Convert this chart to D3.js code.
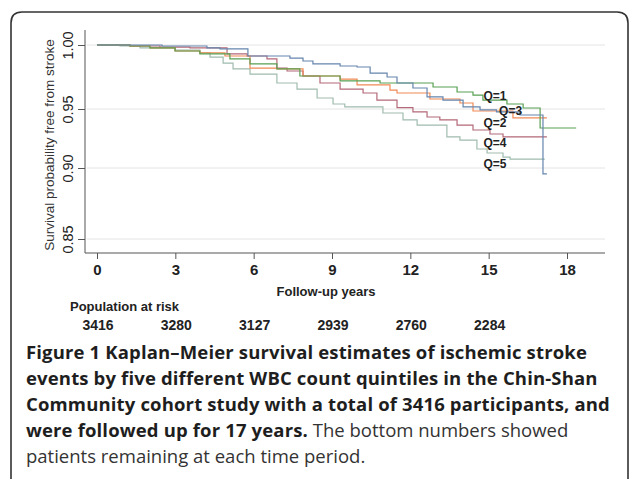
<!DOCTYPE html><html>
<head>
<meta charset="utf-8">
<style>
body { margin: 0; padding: 0; background: #fff; }
svg { display: block; }
.ax text { font-family: "Liberation Sans", Arial, sans-serif; fill: #222; }
.grid line { stroke: #e4e4e4; stroke-width: 1; }
.km { fill: none; stroke-width: 1.2; }
</style>
</head>
<body>
<svg id="chart" width="630" height="479"></svg>
<script src="https://cdn.jsdelivr.net/npm/d3@7"></script>
<script>
// follow-up years on the axis
var xTicks = [0, 3, 6, 9, 12, 15, 18];
var yTicks = [0.85, 0.90, 0.95, 1.00];

// number at risk under the axis
var riskYears = [0, 3, 6, 9, 12, 15];
var riskCounts = [3416, 3280, 3127, 2939, 2760, 2284];

// Kaplan-Meier steps: [years, survival]
var q1 = [[0,1],[1.26,0.9992],[2.03,0.9977],[2.99,0.9953],[3.94,0.993],[5.09,0.9891],[5.86,0.9852],[6.89,0.9813],[7.77,0.9758],[9.31,0.9719],[10.84,0.9703],[12.87,0.9672],[13.79,0.9633],[14.4,0.9609],[14.78,0.957],[15.7,0.9539],[16.32,0.9508],[16.97,0.9339],[18.35,0.9339]];
var q2 = [[0,1],[1.26,0.9992],[2.03,0.9977],[2.99,0.9953],[3.94,0.9938],[4.9,0.9914],[5.86,0.982],[6.89,0.9813],[7.89,0.9758],[9.31,0.9734],[9.96,0.9688],[11.22,0.9648],[11.49,0.9625],[12.75,0.9578],[13.9,0.9547],[14.4,0.9483],[15.93,0.9424],[17.23,0.9424]];
var q3 = [[0,1],[2.49,0.9992],[4.21,0.9977],[4.71,0.9969],[5.78,0.9914],[7.39,0.9898],[7.89,0.9875],[8.27,0.9852],[9.31,0.9836],[9.96,0.9828],[10.46,0.9781],[11.11,0.975],[11.49,0.9703],[12.1,0.9664],[12.64,0.9594],[13.25,0.957],[14.02,0.9516],[14.67,0.9492],[15.3,0.9475],[16.2,0.9449],[17.08,0.8958],[17.23,0.8958]];
var q4 = [[0,1],[1.26,0.9992],[2.41,0.9984],[3.56,0.9977],[4.98,0.993],[5.75,0.9914],[6.51,0.9891],[6.89,0.982],[7.28,0.9797],[7.89,0.9758],[8.54,0.9703],[9.31,0.9656],[10.19,0.9625],[10.72,0.957],[11.49,0.951],[12.1,0.9475],[12.64,0.9432],[13.13,0.9407],[13.79,0.9364],[14.4,0.9322],[15.05,0.9288],[15.55,0.9263],[17.23,0.9263]];
var q5 = [[0,1],[0.88,0.9992],[1.65,0.9977],[2.99,0.9961],[3.94,0.9938],[4.33,0.9906],[4.83,0.9859],[5.21,0.9813],[5.86,0.9773],[6.89,0.9703],[7.66,0.9656],[8.43,0.9586],[9.04,0.9539],[9.49,0.9516],[10.95,0.9466],[11.72,0.9407],[12.26,0.9364],[13.4,0.9263],[13.9,0.9237],[14.55,0.9161],[14.94,0.9127],[15.55,0.9093],[15.82,0.9076],[17.15,0.9076]];

var seriesNames = ["Q=5", "Q=4", "Q=2", "Q=1", "Q=3"];
var seriesData = [q5, q4, q2, q1, q3];
var seriesColors = ["#9fbcae", "#b46878", "#f08a55", "#58a052", "#6585ad"];

// where the curve labels sit, in data units
var labelNames = ["Q=1", "Q=3", "Q=2", "Q=4", "Q=5"];
var labelAt = [[14.8, 0.9607], [15.4, 0.9487], [14.8, 0.9385], [14.8, 0.9212], [14.8, 0.9034]];

var svg = d3.select("#chart");
var lab = "\"Liberation Sans\", Arial, sans-serif";

// rounded frame of the figure panel
svg.append("path")
    .attr("d", "M11,479 V23 Q11,12 22,12 H617 Q628,12 628,23 V479")
    .attr("fill", "none").attr("stroke", "#333").attr("stroke-width", 1.6);

var x = d3.scaleLinear().domain([0, 18]).range([97, 567]);
// the printed y axis is not evenly spaced, so piecewise
var y = d3.scaleLinear().domain(yTicks).range([239, 168, 109, 45]);

var plotL = 85, plotR = 605, plotT = 30, plotB = 253;

svg.append("g").attr("class", "grid")
    .selectAll("line").data(yTicks).enter().append("line")
    .attr("x1", plotL + 2).attr("x2", plotR)
    .attr("y1", d => y(d)).attr("y2", d => y(d));

var yAxis = svg.append("g").attr("class", "ax")
    .attr("transform", "translate(" + plotL + ",0)")
    .call(d3.axisLeft(y).tickValues(yTicks).tickSize(7).tickPadding(0).tickFormat(d3.format(".2f")));
yAxis.select(".domain").remove();
yAxis.selectAll(".tick line").attr("stroke", "#555");
yAxis.selectAll(".tick text")
    .attr("transform", "translate(-17,0) rotate(-90)")
    .attr("x", 0).attr("dy", "0.35em")
    .attr("text-anchor", "middle")
    .style("font-size", "14.5px");

var xAxis = svg.append("g").attr("class", "ax")
    .attr("transform", "translate(0," + plotB + ")")
    .call(d3.axisBottom(x).tickValues(xTicks).tickSize(6).tickPadding(5));
xAxis.select(".domain").remove();
xAxis.selectAll(".tick line").attr("stroke", "#555");
xAxis.selectAll(".tick text").style("font-size", "15px").style("font-weight", "bold");

svg.append("line").attr("x1", plotL).attr("x2", plotL).attr("y1", plotT).attr("y2", plotB)
    .attr("stroke", "#555");
svg.append("line").attr("x1", plotL).attr("x2", plotR).attr("y1", plotB).attr("y2", plotB)
    .attr("stroke", "#555");

var line = d3.line().x(d => x(d[0])).y(d => y(d[1])).curve(d3.curveStepAfter);
svg.append("g").selectAll("path").data(seriesData).enter().append("path")
    .attr("class", "km")
    .attr("stroke", (d, i) => seriesColors[i])
    .attr("d", line);

svg.append("g").selectAll("text").data(labelNames).enter().append("text")
    .attr("x", (d, i) => x(labelAt[i][0]))
    .attr("y", (d, i) => y(labelAt[i][1]))
    .attr("dy", "0.35em")
    .style("font-family", lab)
    .style("font-size", "12px").style("font-weight", "bold").style("fill", "#222")
    .text(d => d);

svg.append("text")
    .attr("transform", "translate(49,145) rotate(-90)")
    .attr("text-anchor", "middle").attr("dy", "0.35em")
    .style("font-family", lab).style("font-size", "13.5px").style("fill", "#333")
    .text("Survival probability free from stroke");

svg.append("text").attr("x", 326).attr("y", 296).attr("text-anchor", "middle")
    .style("font-family", lab).style("font-size", "13px").style("font-weight", "bold").style("fill", "#222")
    .text("Follow-up years");

svg.append("text").attr("x", 70).attr("y", 311)
    .style("font-family", lab).style("font-size", "13px").style("font-weight", "bold").style("fill", "#222")
    .text("Population at risk");

svg.append("g").selectAll("text").data(riskCounts).enter().append("text")
    .attr("x", (d, i) => x(riskYears[i]) + 1)
    .attr("y", 330)
    .attr("text-anchor", "middle")
    .style("font-family", lab).style("font-size", "14px").style("font-weight", "bold").style("fill", "#222")
    .text(d => d);

// caption
var capLines = [
    [["Figure 1 Kaplan\u2013Meier survival estimates of ischemic stroke", true]],
    [["events by five different WBC count quintiles in the Chin-Shan", true]],
    [["Community cohort study with a total of 3416 participants, and", true]],
    [["were followed up for 17 years.", true], [" The bottom numbers showed", false]],
    [["patients remaining at each time period.", false]]
];
var cap = svg.append("g")
    .style("font-family", "\"Open Sans\", \"Noto Sans\", sans-serif")
    .style("font-size", "18.5px");
capLines.forEach(function (parts, i) {
    var t = cap.append("text").attr("x", 26).attr("y", 359 + i * 26);
    parts.forEach(function (p) {
        t.append("tspan")
            .style("font-weight", p[1] ? "bold" : "normal")
            .style("letter-spacing", p[1] ? "0.15px" : "0px")
            .style("fill", p[1] ? "#1e1e1e" : "#333")
            .text(p[0]);
    });
});
</script>
</body>
</html>
